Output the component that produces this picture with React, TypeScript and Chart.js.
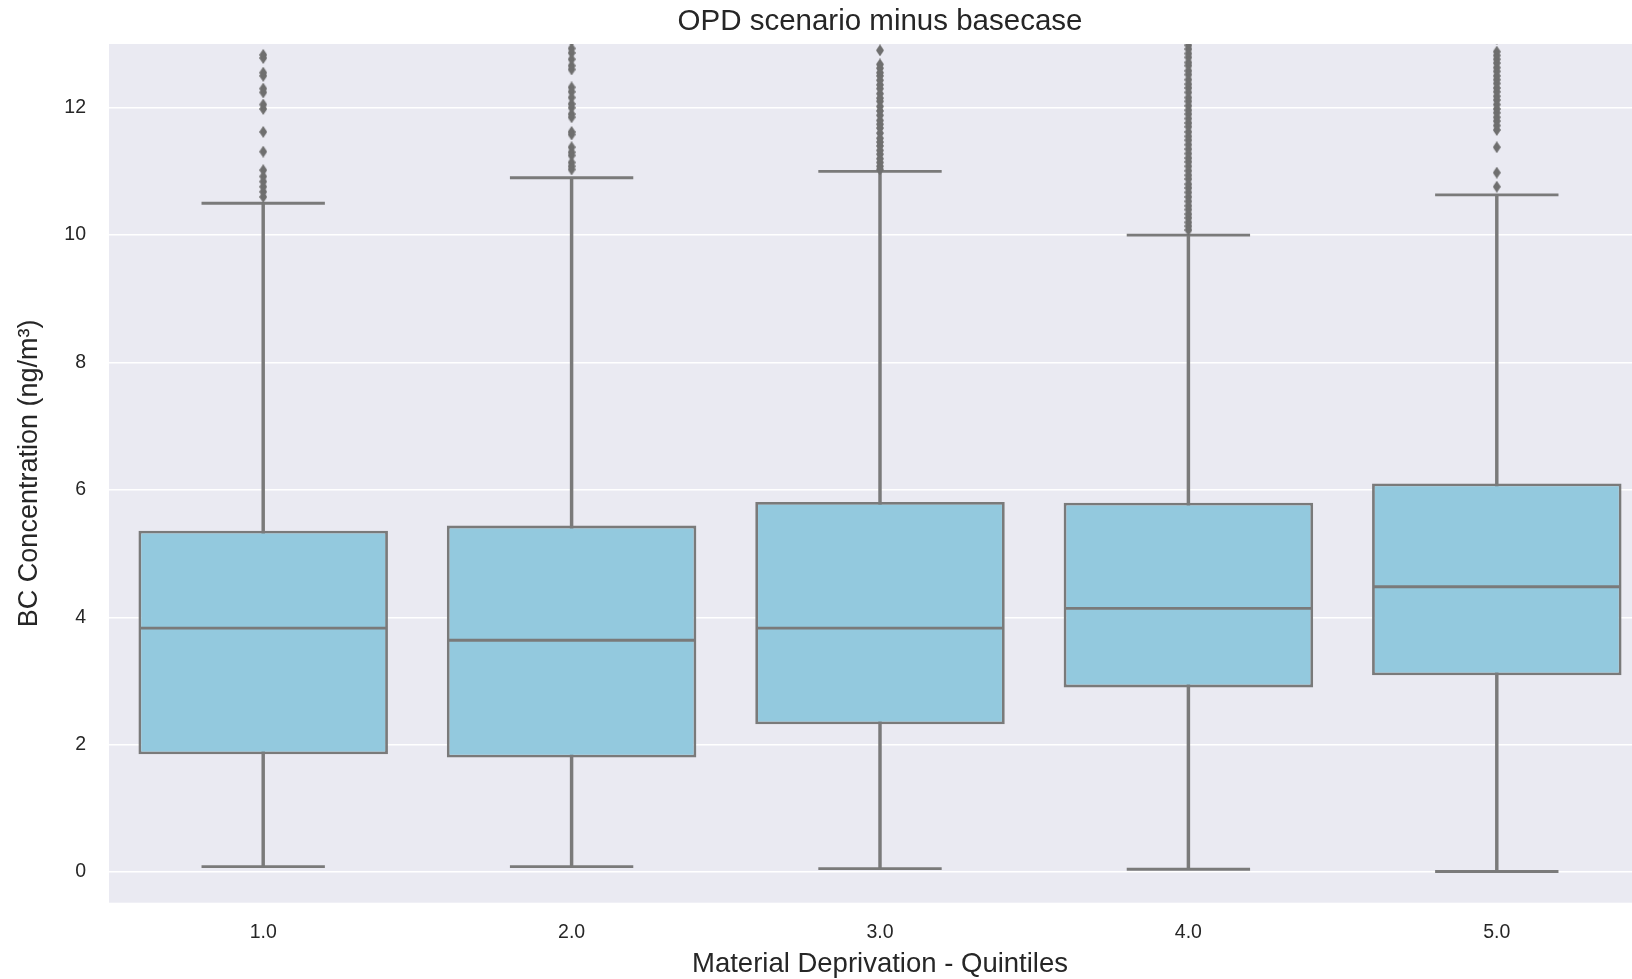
import React, { useEffect, useRef } from 'react';
import { Chart, registerables } from 'chart.js';

Chart.register(...registerables);

// ---- data ----
const categories = ['1.0', '2.0', '3.0', '4.0', '5.0'];
const whiskerLow = [0.085, 0.085, 0.055, 0.045, 0.01];
const q1 = [1.85, 1.8, 2.32, 2.9, 3.09];
const medians = [3.83, 3.64, 3.83, 4.14, 4.48];
const q3 = [5.36, 5.44, 5.81, 5.8, 6.1];
const whiskerHigh = [10.5, 10.9, 11.0, 10.0, 10.63];

const outliers1 = [12.83, 12.78, 12.55, 12.5, 12.3, 12.24, 12.05, 11.98, 11.62, 11.31, 11.02, 10.92, 10.84, 10.76, 10.68, 10.6];
const outliers2 = [13.05, 12.93, 12.86, 12.76, 12.66, 12.6, 12.32, 12.25, 12.16, 12.06, 12.0, 11.9, 11.85, 11.62, 11.58, 11.38, 11.3, 11.25, 11.14, 11.08, 11.03];
const outliers3 = [12.9, 12.68, 12.62, 12.55, 12.5, 12.43, 12.36, 12.3, 12.22, 12.15, 12.1, 12.02, 11.95, 11.88, 11.8, 11.74, 11.68, 11.6, 11.52, 11.46, 11.4, 11.33, 11.27, 11.2, 11.14, 11.08, 11.03];
const outliers4 = [13.05, 12.98, 12.92, 12.85, 12.79, 12.71, 12.66, 12.58, 12.52, 12.44, 12.37, 12.31, 12.24, 12.16, 12.1, 12.03, 11.96, 11.9, 11.83, 11.76, 11.7, 11.62, 11.55, 11.49, 11.42, 11.35, 11.28, 11.21, 11.15, 11.08, 11.01, 10.94, 10.88, 10.8, 10.74, 10.67, 10.6, 10.53, 10.46, 10.4, 10.33, 10.27, 10.2, 10.14, 10.08];
const outliers5 = [13.08, 12.88, 12.82, 12.76, 12.7, 12.63, 12.57, 12.5, 12.44, 12.38, 12.31, 12.25, 12.18, 12.12, 12.05, 11.98, 11.92, 11.85, 11.79, 11.72, 11.65, 11.38, 10.98, 10.76];
const outlierLists = [outliers1, outliers2, outliers3, outliers4, outliers5];

const yTicks = [0, 2, 4, 6, 8, 10, 12];
const yMin = -0.48;
const yMax = 13;

const titleText = 'OPD scenario minus basecase';
const xTitle = 'Material Deprivation - Quintiles';
const yTitle = 'BC Concentration (ng/m\u00B3)';

// ---- styles ----
const LINE = '#7a7a7a';
const FLIER = '#6f6f6f';
const BOX = '#93C9DE';
const PLOT_BG = '#EAEAF2';
const TEXT = '#262626';
const FONT = "'Liberation Sans', Arial, sans-serif";
const LW = 2.8;

function makeDiamond(): HTMLCanvasElement {
  const c = document.createElement('canvas');
  const w = 8, h = 12;
  c.width = w; c.height = h;
  const g = c.getContext('2d')!;
  g.fillStyle = FLIER;
  g.beginPath();
  g.moveTo(w / 2, 0);
  g.lineTo(w, h / 2);
  g.lineTo(w / 2, h);
  g.lineTo(0, h / 2);
  g.closePath();
  g.fill();
  return c;
}

const bgPlugin = {
  id: 'plotBg',
  beforeDraw(chart: any) {
    const { ctx, chartArea } = chart;
    ctx.save();
    ctx.fillStyle = '#ffffff';
    ctx.fillRect(0, 0, chart.width, chart.height);
    ctx.fillStyle = PLOT_BG;
    ctx.fillRect(chartArea.left, chartArea.top, chartArea.right - chartArea.left, chartArea.bottom - chartArea.top);
    ctx.restore();
  },
};

const catWidth = (ctx: any) => {
  const s = ctx.chart.scales.x;
  return s ? s.width / categories.length : 300;
};

export default function App() {
  const ref = useRef<HTMLCanvasElement>(null);

  useEffect(() => {
    if (!ref.current) return;
    const diamond = makeDiamond();
    Chart.defaults.font.family = FONT;

    const flierData: any[] = [];
    outlierLists.forEach((list, i) => list.forEach((v) => flierData.push({ x: categories[i], y: v })));
    const capData: any[] = [];
    categories.forEach((c, i) => {
      capData.push({ x: c, y: whiskerLow[i] });
      capData.push({ x: c, y: whiskerHigh[i] });
    });
    const medData = categories.map((c, i) => ({ x: c, y: medians[i] }));

    const chart = new Chart(ref.current, {
      type: 'bar',
      data: {
        labels: categories,
        datasets: [
          {
            type: 'scatter',
            label: 'fliers',
            data: flierData,
            pointStyle: diamond as any,
            pointRadius: 5,
            order: 1,
          } as any,
          {
            type: 'scatter',
            label: 'median',
            data: medData,
            pointStyle: 'line',
            pointRadius: (ctx: any) => catWidth(ctx) * 0.4,
            pointBorderWidth: LW,
            pointBorderColor: LINE,
            order: 2,
          } as any,
          {
            type: 'scatter',
            label: 'caps',
            data: capData,
            pointStyle: 'line',
            pointRadius: (ctx: any) => catWidth(ctx) * 0.2,
            pointBorderWidth: LW,
            pointBorderColor: LINE,
            order: 3,
          } as any,
          {
            type: 'bar',
            label: 'box',
            data: categories.map((_, i) => [q1[i], q3[i]]),
            backgroundColor: BOX,
            borderColor: LINE,
            borderWidth: LW,
            borderSkipped: false,
            barPercentage: 0.809,
            categoryPercentage: 1,
            grouped: false,
            order: 4,
          } as any,
          {
            type: 'bar',
            label: 'whisker',
            data: categories.map((_, i) => [whiskerLow[i], whiskerHigh[i]]),
            backgroundColor: LINE,
            borderWidth: 0,
            barThickness: LW,
            grouped: false,
            order: 5,
          } as any,
        ],
      },
      options: {
        responsive: false,
        animation: false,
        events: [],
        layout: { padding: { left: 0, right: 9, top: 0, bottom: 0 } },
        plugins: {
          legend: { display: false },
          tooltip: { enabled: false },
          title: {
            display: true,
            fullSize: false,
            text: titleText,
            color: TEXT,
            font: { family: FONT, size: 29.5, weight: 'normal' },
            padding: { top: 4, bottom: 4.6 },
          },
        },
        scales: {
          x: {
            type: 'category',
            labels: categories,
            offset: true,
            grid: { display: false, drawTicks: false },
            border: { display: false },
            ticks: { color: TEXT, font: { family: FONT, size: 19.5 }, padding: 18 },
            title: {
              display: true,
              text: xTitle,
              color: TEXT,
              font: { family: FONT, size: 27.5 },
              padding: { top: 0, bottom: -2 },
            },
            afterFit: (s: any) => { s.height = 76.3; },
          },
          y: {
            type: 'linear',
            min: yMin,
            max: yMax,
            grid: { color: '#ffffff', lineWidth: 1.6, drawTicks: false },
            border: { display: false },
            ticks: { color: TEXT, font: { family: FONT, size: 19.5 }, padding: 23 },
            afterBuildTicks: (s: any) => { s.ticks = yTicks.map((v) => ({ value: v })); },
            title: {
              display: true,
              text: yTitle,
              color: TEXT,
              font: { family: FONT, size: 27 },
              padding: { top: 13.5, bottom: 0 },
            },
            afterFit: (s: any) => { s.width = 109; },
          },
        },
      } as any,
      plugins: [bgPlugin],
    });
    return () => chart.destroy();
  }, []);

  return (
    <div style={{ position: 'fixed', left: 0, top: 0, width: 1632, height: 979, overflow: 'hidden', background: '#fff' }}>
      <canvas ref={ref} width={1660} height={979} style={{ display: 'block', width: 1660, height: 979 }} />
    </div>
  );
}
